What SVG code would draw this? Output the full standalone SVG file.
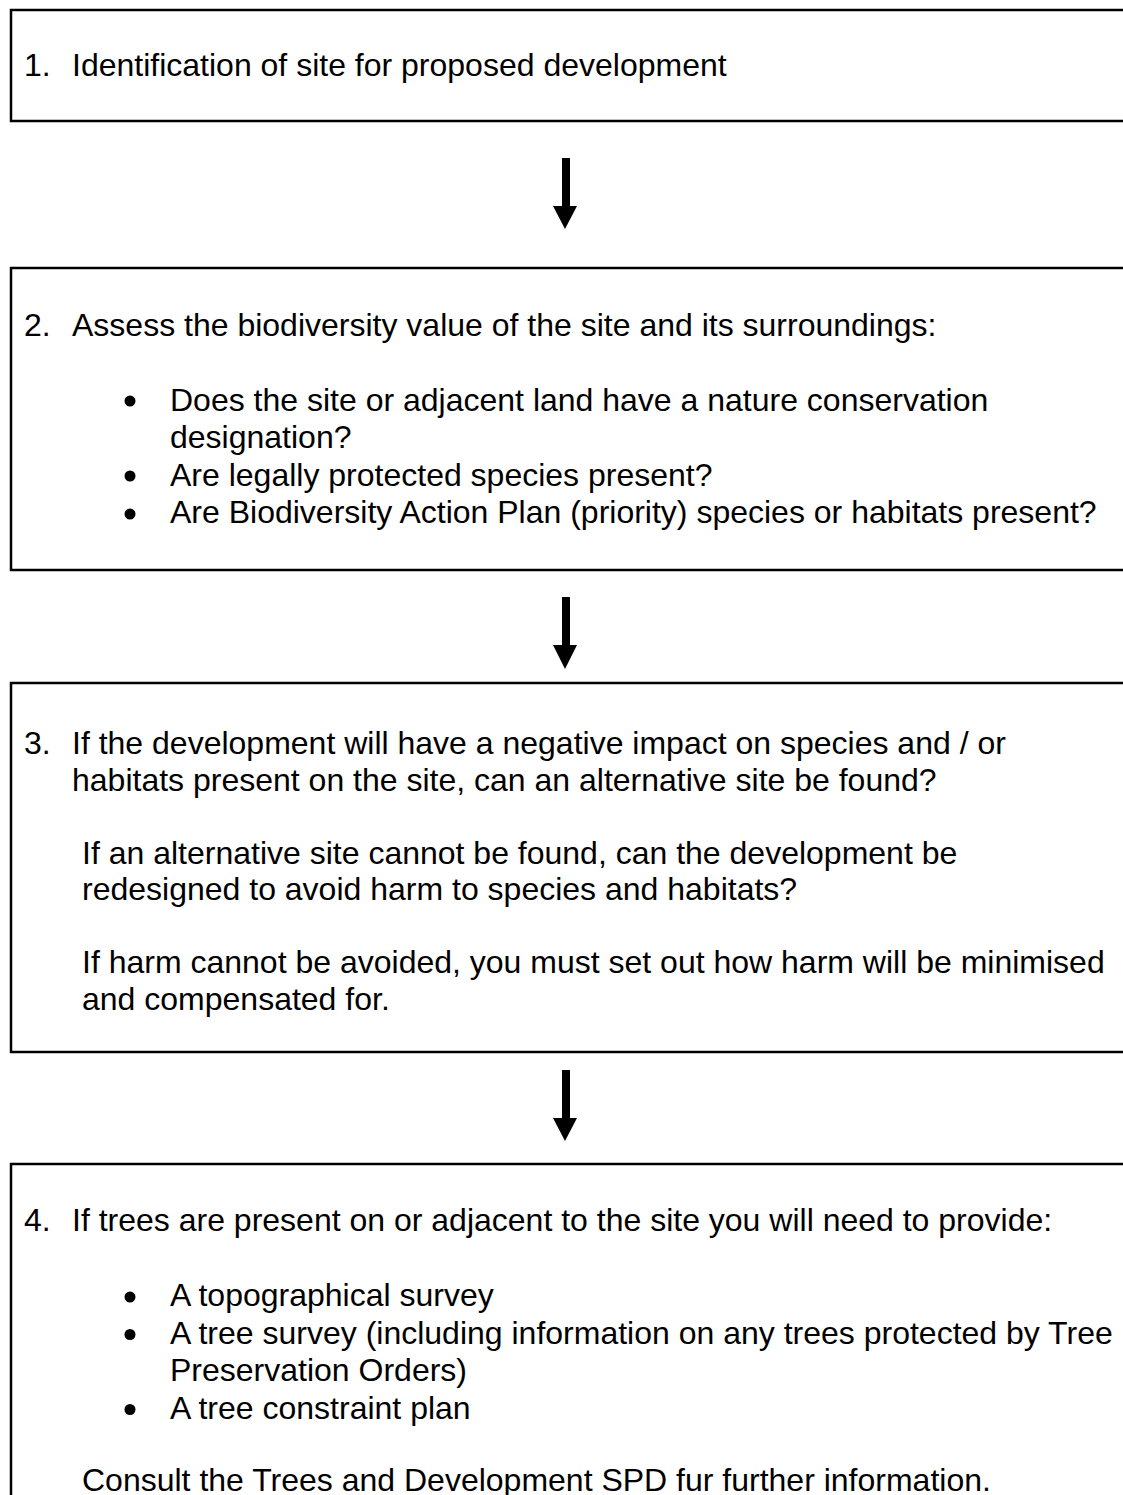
<svg xmlns="http://www.w3.org/2000/svg" width="1123" height="1495" viewBox="0 0 1123 1495">
<style>
.box{fill:#fff;stroke:#000;stroke-width:2.5}
text{font-family:"Liberation Sans",Arial,sans-serif;font-size:32px;fill:#000}
.dot{fill:#000}
.arr{fill:#000}
</style>
<rect width="1123" height="1495" fill="#fff"/>
<g id="node1">
<rect class="box" x="11" y="10" width="1130" height="111"/>
<text x="24" y="76">1.</text>
<text x="72" y="76">Identification of site for proposed development</text>
</g>
<g id="node2">
<rect class="box" x="11" y="268" width="1130" height="302"/>
<text x="24" y="336">2.</text>
<text x="72" y="336">Assess the biodiversity value of the site and its surroundings:</text>
<circle class="dot" cx="130" cy="401" r="5.5"/>
<text x="170" y="410.5">Does the site or adjacent land have a nature conservation</text>
<text x="170" y="448">designation?</text>
<circle class="dot" cx="130" cy="476" r="5.5"/>
<text x="170" y="485.5">Are legally protected species present?</text>
<circle class="dot" cx="130" cy="514" r="5.5"/>
<text x="170" y="523">Are Biodiversity Action Plan (priority) species or habitats present?</text>
</g>
<g id="node3">
<rect class="box" x="11" y="683" width="1130" height="369"/>
<text x="24" y="754">3.</text>
<text x="72" y="754">If the development will have a negative impact on species and / or</text>
<text x="72" y="790.5">habitats present on the site, can an alternative site be found?</text>
<text x="82" y="863.5">If an alternative site cannot be found, can the development be</text>
<text x="82" y="900">redesigned to avoid harm to species and habitats?</text>
<text x="82" y="973">If harm cannot be avoided, you must set out how harm will be minimised</text>
<text x="82" y="1009.5">and compensated for.</text>
</g>
<g id="node4">
<rect class="box" x="11" y="1164" width="1130" height="400"/>
<text x="24" y="1231">4.</text>
<text x="72" y="1231">If trees are present on or adjacent to the site you will need to provide:</text>
<circle class="dot" cx="130" cy="1297" r="5.5"/>
<text x="170" y="1306">A topographical survey</text>
<circle class="dot" cx="130" cy="1334.5" r="5.5"/>
<text x="170" y="1343.5">A tree survey (including information on any trees protected by Tree</text>
<text x="170" y="1381">Preservation Orders)</text>
<circle class="dot" cx="130" cy="1409.5" r="5.5"/>
<text x="170" y="1418.5">A tree constraint plan</text>
<text x="82" y="1491">Consult the Trees and Development SPD fur further information.</text>
</g>
<g id="connectors">
<path class="arr" d="M562 158 H570 V206 H577 L565 229 L553 206 H562 Z"/>
<path class="arr" d="M562 597 H570 V645 H577 L565 669 L553 645 H562 Z"/>
<path class="arr" d="M562 1070 H570 V1118 H577 L565 1141 L553 1118 H562 Z"/>
</g>
</svg>
